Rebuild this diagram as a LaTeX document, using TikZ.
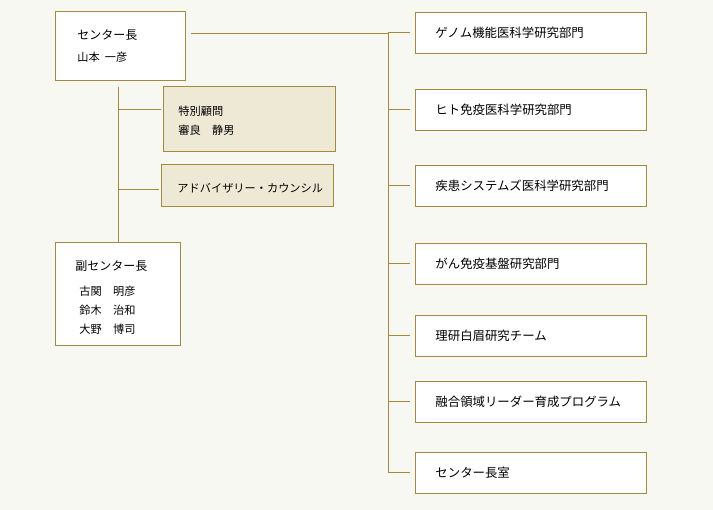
\documentclass[tikz,border=0pt]{standalone}
\usepackage{fontspec}
\setmainfont{Noto Sans CJK JP}
\usetikzlibrary{positioning,calc}
\definecolor{orggold}{HTML}{A38A3E}
\definecolor{orgbeige}{HTML}{EEE9D5}
\definecolor{orgback}{HTML}{F8F8F3}

\begin{document}
\begin{tikzpicture}[x=1pt,y=-1pt,
  orgbox/.style={draw=orggold, fill=white, line width=0.9pt, anchor=north west, align=left, inner ysep=0pt, font=\fontsize{11.2}{19}\selectfont},
  advbox/.style={orgbox, fill=orgbeige},
  deptbox/.style={orgbox, minimum width=231pt, minimum height=41pt, text width=191pt, inner xsep=20pt, font=\fontsize{12.4}{14}\selectfont},
  conn/.style={draw=orggold, line width=0.9pt},
]
\fill[orgback] (0,0) rectangle (713,510);
\useasboundingbox (0,0) rectangle (713,510);

% center chief and staff
\node[orgbox, minimum width=130pt, minimum height=69pt, text width=86pt, inner xsep=22pt] (chief) at (55,11)
  {{\fontsize{12}{19}\selectfont センター長}\\[3pt]山本\hspace{5pt}一彦};
\node[advbox, minimum width=172pt, minimum height=65pt, text width=142pt, inner xsep=15pt] (adviser) at (163,86)
  {\rule{0pt}{14pt}特別顧問\\審良　静男};
\node[advbox, minimum width=172pt, minimum height=42pt, text width=140pt, inner xsep=16pt] (council) at (161,164)
  {\rule{0pt}{14pt}アドバイザリー・カウンシル};
\node[orgbox, minimum width=125pt, minimum height=103pt, text width=85pt, inner xsep=20pt] (vice) at (55,242)
  {\rule{0pt}{17pt}{\fontsize{12}{19}\selectfont 副センター長}\\[6pt]\hspace*{4pt}古関　明彦\\\hspace*{4pt}鈴木　治和\\\hspace*{4pt}大野　博司};

% divisions
\foreach \dy/\dname [count=\i] in {12/ゲノム機能医科学研究部門, 89/ヒト免疫医科学研究部門,
    165/疾患システムズ医科学研究部門, 243/がん免疫基盤研究部門, 315/理研白眉研究チーム,
    381/融合領域リーダー育成プログラム, 452/センター長室}
  \node[deptbox] (dept\i) at (415,\dy) {\dname};

% connectors
\coordinate (trunk) at (388,33);
\draw[conn, shorten <=5pt] (chief.east |- trunk) -- (trunk) -- (trunk |- dept7.west);
\foreach \i in {1,...,7}
  \draw[conn, shorten >=5pt] (trunk |- dept\i.west) -- (dept\i.west);

\coordinate (stem) at (118,0);
\coordinate (advin) at ([yshift=9.5pt]adviser.west);
\coordinate (counin) at ([yshift=-4pt]council.west);
\draw[conn, shorten <=6pt] (stem |- chief.south) -- (stem |- vice.north);
\draw[conn, shorten >=2pt] (stem |- advin) -- (advin);
\draw[conn, shorten >=2pt] (stem |- counin) -- (counin);
\end{tikzpicture}
\end{document}
